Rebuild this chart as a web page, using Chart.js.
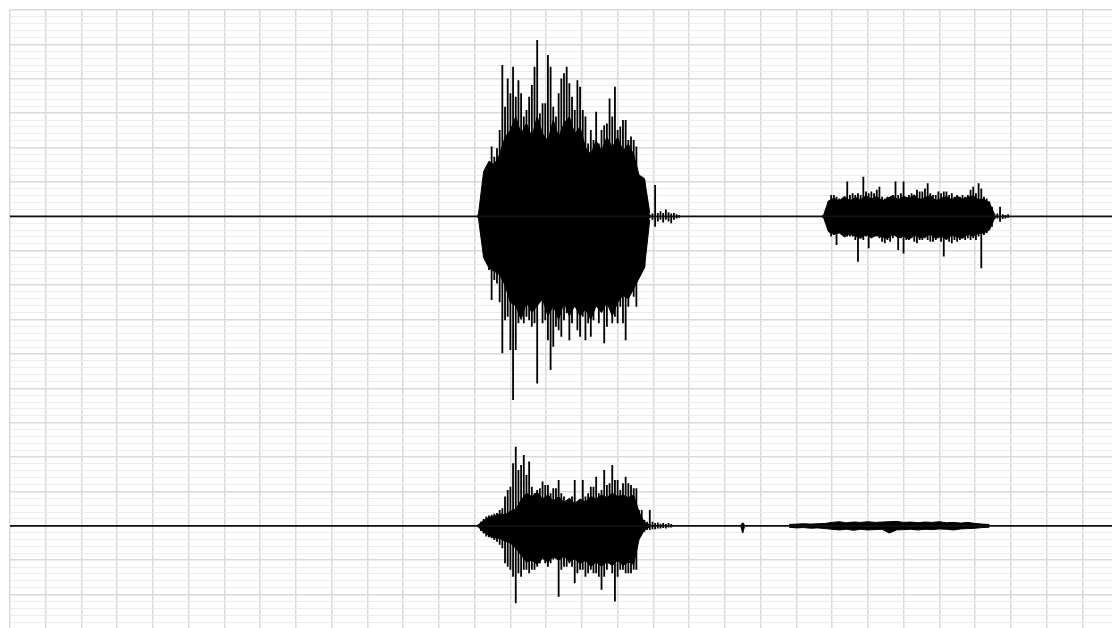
<!DOCTYPE html>
<html>
<head>
<meta charset="utf-8">
<script src="https://cdn.jsdelivr.net/npm/chart.js@4.4.1/dist/chart.umd.min.js"></script>
<style>
  html, body { margin: 0; padding: 0; background: #ffffff; overflow: hidden; }
  #wrap { width: 1118px; height: 629px; position: relative; }
</style>
</head>
<body>
<div id="wrap"><canvas id="wave" width="1118" height="629"></canvas></div>
<script>
// Stereo recording: time in seconds on x, amplitude in grid units on y.
// Each channel sits on its own baseline inside one shared amplitude scale.
const duration = 3.1;
const xGridStep = 0.1;
const yTop = 18;
const yMinorStep = 0.2;
const channelBaselines = [12, 3];          // channel 1 (upper), channel 2 (lower)
const columnStep = 0.0075;                 // peak column spacing, seconds
const coreStep = 0.015;                    // dense-body envelope spacing, seconds

// ---- Channel 1, first burst ----
const ch1BurstAStart = 1.31;
// per-column peaks (high) and troughs (low)
const ch1BurstAHigh = [0.05,0.38,0.96,1.35,1.35,2.03,1.73,1.98,2.51,4.40,
  3.19,4.01,3.58,4.35,3.48,3.96,3.58,2.90,3.09,3.48,
  3.82,4.35,5.13,2.99,3.29,3.29,4.69,4.35,3.19,2.90,
  3.58,4.01,4.16,4.35,3.87,3.48,3.09,3.96,3.77,3.09,
  2.90,2.12,2.51,2.22,3.04,2.12,2.51,2.65,2.70,3.43,
  2.90,3.77,2.51,2.61,2.80,2.80,2.22,2.32,2.22,2.03,
  1.15,1.06,1.06,0.10,0.05,0.08,0.91,0.10,0.15,0.10,
  0.20,0.12,0.08,0.10,0.06,0.04];
const ch1BurstALow = [-0.05,-0.30,-0.79,-1.17,-1.56,-2.43,-1.85,-1.95,-2.50,-3.98,
  -3.02,-2.92,-3.89,-5.34,-3.89,-3.11,-2.82,-3.11,-2.92,-3.02,
  -3.21,-3.11,-4.86,-2.34,-3.11,-3.02,-3.60,-4.47,-3.79,-3.21,
  -3.31,-3.50,-3.02,-2.82,-3.60,-3.11,-2.63,-3.31,-3.50,-2.92,
  -3.60,-3.11,-3.50,-3.02,-2.34,-3.11,-2.72,-3.69,-3.21,-2.63,
  -3.11,-2.92,-3.11,-2.63,-3.11,-3.60,-2.63,-2.24,-2.34,-2.63,
  -1.76,-1.37,-1.47,-0.15,-0.05,-0.10,-0.30,-0.15,-0.10,-0.18,
  -0.10,-0.15,-0.20,-0.10,-0.06,-0.04];
// solid body of the burst
const ch1BurstACoreHigh = [0.00,1.30,1.60,1.50,1.80,2.30,2.50,2.90,2.40,2.70,
  2.30,2.90,2.40,2.20,2.80,2.30,2.70,2.90,2.40,2.60,
  2.00,1.80,2.20,1.90,2.30,2.00,2.30,1.90,2.10,1.80,
  1.20,1.10,0.10];
const ch1BurstACoreLow = [0.00,-1.20,-1.50,-1.60,-1.70,-2.00,-2.50,-2.60,-3.00,-2.50,
  -2.80,-2.60,-2.40,-2.90,-2.60,-3.00,-2.50,-2.90,-2.60,-2.90,
  -2.70,-3.00,-2.60,-2.80,-2.50,-2.90,-2.50,-2.30,-2.40,-2.10,
  -1.80,-1.50,-0.10];

// ---- Channel 1, second burst ----
const ch1BurstBStart = 2.275;
const ch1BurstBHigh = [0.04,0.10,0.43,0.62,0.62,0.57,0.52,0.47,0.57,1.01,
  0.62,0.67,0.62,0.67,0.62,1.15,0.72,0.67,0.72,0.67,
  0.77,0.86,0.57,0.52,0.57,0.57,0.62,1.01,0.62,0.67,
  1.01,0.57,0.62,0.67,0.62,0.77,0.72,0.72,0.81,0.96,
  0.67,0.62,0.62,0.72,0.67,0.72,0.72,0.62,0.67,0.57,
  0.62,0.57,0.62,0.57,0.62,0.77,0.86,0.67,0.96,0.81,
  0.57,0.52,0.43,0.28,0.05,0.08,0.28,0.06,0.04,0.06];
const ch1BurstBLow = [-0.04,-0.10,-0.40,-0.59,-0.54,-0.83,-0.49,-0.45,-0.54,-0.59,
  -0.59,-0.59,-0.69,-1.32,-0.64,-0.69,-0.59,-0.93,-0.64,-0.59,
  -0.59,-0.64,-0.74,-0.78,-0.69,-0.74,-0.64,-0.54,-0.98,-0.64,
  -1.08,-0.69,-0.69,-0.64,-0.74,-0.78,-0.69,-0.69,-0.64,-0.69,
  -0.74,-0.74,-0.69,-0.64,-0.74,-1.17,-0.69,-0.74,-0.78,-0.69,
  -0.74,-0.69,-0.64,-0.69,-0.64,-0.69,-0.64,-0.69,-0.59,-1.51,
  -0.54,-0.49,-0.40,-0.30,-0.08,-0.06,-0.16,-0.08,-0.06,-0.04];
const ch1BurstBCoreHigh = [0.00,0.45,0.52,0.45,0.58,0.45,0.55,0.48,0.60,0.50,
  0.58,0.45,0.52,0.60,0.48,0.58,0.52,0.62,0.48,0.55,
  0.60,0.46,0.52,0.58,0.48,0.58,0.50,0.55,0.60,0.48,
  0.50,0.40,0.05];
const ch1BurstBCoreLow = [0.00,-0.45,-0.52,-0.48,-0.60,-0.50,-0.58,-0.64,-0.52,-0.62,
  -0.55,-0.60,-0.64,-0.52,-0.62,-0.58,-0.67,-0.55,-0.62,-0.60,
  -0.52,-0.64,-0.58,-0.66,-0.55,-0.60,-0.64,-0.52,-0.58,-0.50,
  -0.48,-0.40,-0.05];

// ---- Channel 2, burst ----
const ch2BurstStart = 1.31;
const ch2BurstHigh = [0.04,0.12,0.20,0.27,0.30,0.32,0.35,0.37,0.46,0.51,
  0.85,1.04,1.14,1.82,2.30,1.62,1.77,2.06,1.48,1.87,
  1.14,0.95,1.04,1.09,1.29,1.19,1.19,0.95,1.09,1.09,
  1.33,0.95,0.85,0.75,0.75,0.85,1.33,0.56,0.75,1.33,
  0.85,0.95,1.14,1.14,1.43,0.95,1.04,1.62,1.19,1.24,
  1.77,1.33,1.33,1.04,1.24,1.43,1.24,1.19,1.09,1.09,
  0.46,0.46,0.17,0.12,0.46,0.12,0.08,0.10,0.06,0.08,
  0.05,0.08,0.05];
const ch2BurstLow = [-0.04,-0.15,-0.22,-0.31,-0.33,-0.36,-0.41,-0.46,-0.55,-0.65,
  -1.09,-1.19,-1.28,-1.48,-2.25,-1.38,-1.48,-1.28,-1.28,-1.38,
  -1.28,-1.28,-1.19,-1.09,-0.89,-1.09,-1.19,-1.09,-0.98,-0.80,
  -2.06,-1.28,-1.19,-1.19,-1.09,-1.19,-1.67,-1.38,-1.28,-1.28,
  -1.48,-1.38,-1.28,-1.38,-1.38,-1.48,-1.86,-1.48,-1.28,-1.09,
  -1.38,-2.20,-1.48,-1.28,-1.28,-1.38,-1.38,-1.38,-1.28,-1.28,
  -0.31,-0.22,-0.17,-0.12,-0.12,-0.10,-0.10,-0.08,-0.08,-0.06,
  -0.08,-0.05,-0.05];
const ch2BurstCoreHigh = [0.03,0.15,0.25,0.28,0.34,0.33,0.42,0.48,0.75,0.95,
  0.85,0.98,0.78,0.90,0.72,0.85,0.68,0.80,0.65,0.78,
  0.70,0.85,0.78,0.90,0.82,0.95,0.85,0.90,0.82,0.90,
  0.40,0.10,0.03];
const ch2BurstCoreLow = [-0.03,-0.18,-0.28,-0.35,-0.36,-0.45,-0.50,-0.65,-0.85,-1.05,
  -1.00,-1.12,-0.95,-1.05,-0.90,-1.00,-0.88,-1.05,-0.95,-1.10,
  -1.00,-1.18,-1.05,-1.18,-1.05,-1.15,-1.00,-1.15,-1.05,-1.12,
  -0.40,-0.12,-0.03];

// ---- Channel 2, isolated click ----
const ch2ClickStart = 2.045;
const ch2ClickHigh = [0.03, 0.09, 0.03];
const ch2ClickLow = [-0.03, -0.21, -0.03];

// ---- Channel 2, faint echo of the second burst ----
const ch2EchoStart = 2.18;
const ch2EchoStep = 0.02;
const ch2EchoHigh = [0.04,0.05,0.06,0.05,0.06,0.07,0.10,0.12,0.09,0.11,
  0.10,0.12,0.10,0.11,0.12,0.13,0.10,0.11,0.09,0.11,
  0.10,0.12,0.09,0.10,0.08,0.10,0.07,0.05,0.04];
const ch2EchoLow = [-0.04,-0.06,-0.05,-0.07,-0.06,-0.08,-0.10,-0.12,-0.10,-0.13,
  -0.10,-0.12,-0.11,-0.10,-0.21,-0.12,-0.11,-0.10,-0.12,-0.10,
  -0.11,-0.09,-0.10,-0.12,-0.09,-0.08,-0.07,-0.05,-0.04];

const xTickValues = [];
for (let k = 0; k <= Math.round(duration / xGridStep); k++) xTickValues.push(+(k * xGridStep).toFixed(4));
const yTickValues = [];
for (let k = 0; k <= Math.round(yTop / yMinorStep); k++) yTickValues.push(+(k * yMinorStep).toFixed(4));

const ink = '#000000';

function baseline(center) {
  return {
    data: [{ x: 0, y: center }, { x: duration, y: center }],
    borderColor: '#111111', borderWidth: 1.8, pointRadius: 0, fill: false
  };
}

// filled band between an upper and a lower envelope
function band(start, step, high, low, center) {
  const pts = arr => arr.map((v, i) => ({ x: start + i * step, y: center + v }));
  return [
    { data: pts(high), borderColor: ink, backgroundColor: ink, borderWidth: 1,
      pointRadius: 0, fill: '+1' },
    { data: pts(low), borderColor: ink, borderWidth: 1, pointRadius: 0, fill: false }
  ];
}

// one vertical stroke per column, from trough to peak
function strokes(start, step, high, low, center) {
  const data = [];
  high.forEach((h, i) => {
    const x = start + i * step;
    data.push({ x, y: center + h }, { x, y: center + low[i] }, { x, y: null });
  });
  return { data, borderColor: ink, borderWidth: 1.8, pointRadius: 0, fill: false, spanGaps: false };
}

const datasets = [
  baseline(channelBaselines[0]),
  baseline(channelBaselines[1]),
  ...band(ch1BurstAStart, coreStep, ch1BurstACoreHigh, ch1BurstACoreLow, channelBaselines[0]),
  strokes(ch1BurstAStart, columnStep, ch1BurstAHigh, ch1BurstALow, channelBaselines[0]),
  ...band(ch1BurstBStart, coreStep, ch1BurstBCoreHigh, ch1BurstBCoreLow, channelBaselines[0]),
  strokes(ch1BurstBStart, columnStep, ch1BurstBHigh, ch1BurstBLow, channelBaselines[0]),
  ...band(ch2BurstStart, coreStep, ch2BurstCoreHigh, ch2BurstCoreLow, channelBaselines[1]),
  strokes(ch2BurstStart, columnStep, ch2BurstHigh, ch2BurstLow, channelBaselines[1]),
  ...band(ch2ClickStart, 0.005, ch2ClickHigh, ch2ClickLow, channelBaselines[1]),
  ...band(ch2EchoStart, ch2EchoStep, ch2EchoHigh, ch2EchoLow, channelBaselines[1])
];

const isWhole = v => Math.abs(v - Math.round(v)) < 1e-6;

new Chart(document.getElementById('wave'), {
  type: 'line',
  data: { datasets },
  options: {
    responsive: false,
    animation: false,
    events: [],
    layout: { padding: { left: 10, top: 10, right: 0, bottom: 0 } },
    elements: { line: { tension: 0 } },
    plugins: { legend: { display: false }, tooltip: { enabled: false }, title: { display: false } },
    scales: {
      x: {
        type: 'linear', min: 0, max: duration,
        ticks: { display: false },
        border: { display: false },
        grid: { drawTicks: false, color: '#dadada', lineWidth: 1.5 },
        afterBuildTicks: s => { s.ticks = xTickValues.map(v => ({ value: v })); },
        afterFit: s => { s.height = 0; }
      },
      y: {
        type: 'linear', min: 0, max: yTop,
        ticks: { display: false },
        border: { display: false },
        grid: {
          drawTicks: false,
          color: c => isWhole(c.tick.value) ? '#dadada' : '#ececec',
          lineWidth: c => isWhole(c.tick.value) ? 1.5 : 1
        },
        afterBuildTicks: s => { s.ticks = yTickValues.map(v => ({ value: v })); },
        afterFit: s => { s.width = 0; }
      }
    }
  }
});
</script>
</body>
</html>
